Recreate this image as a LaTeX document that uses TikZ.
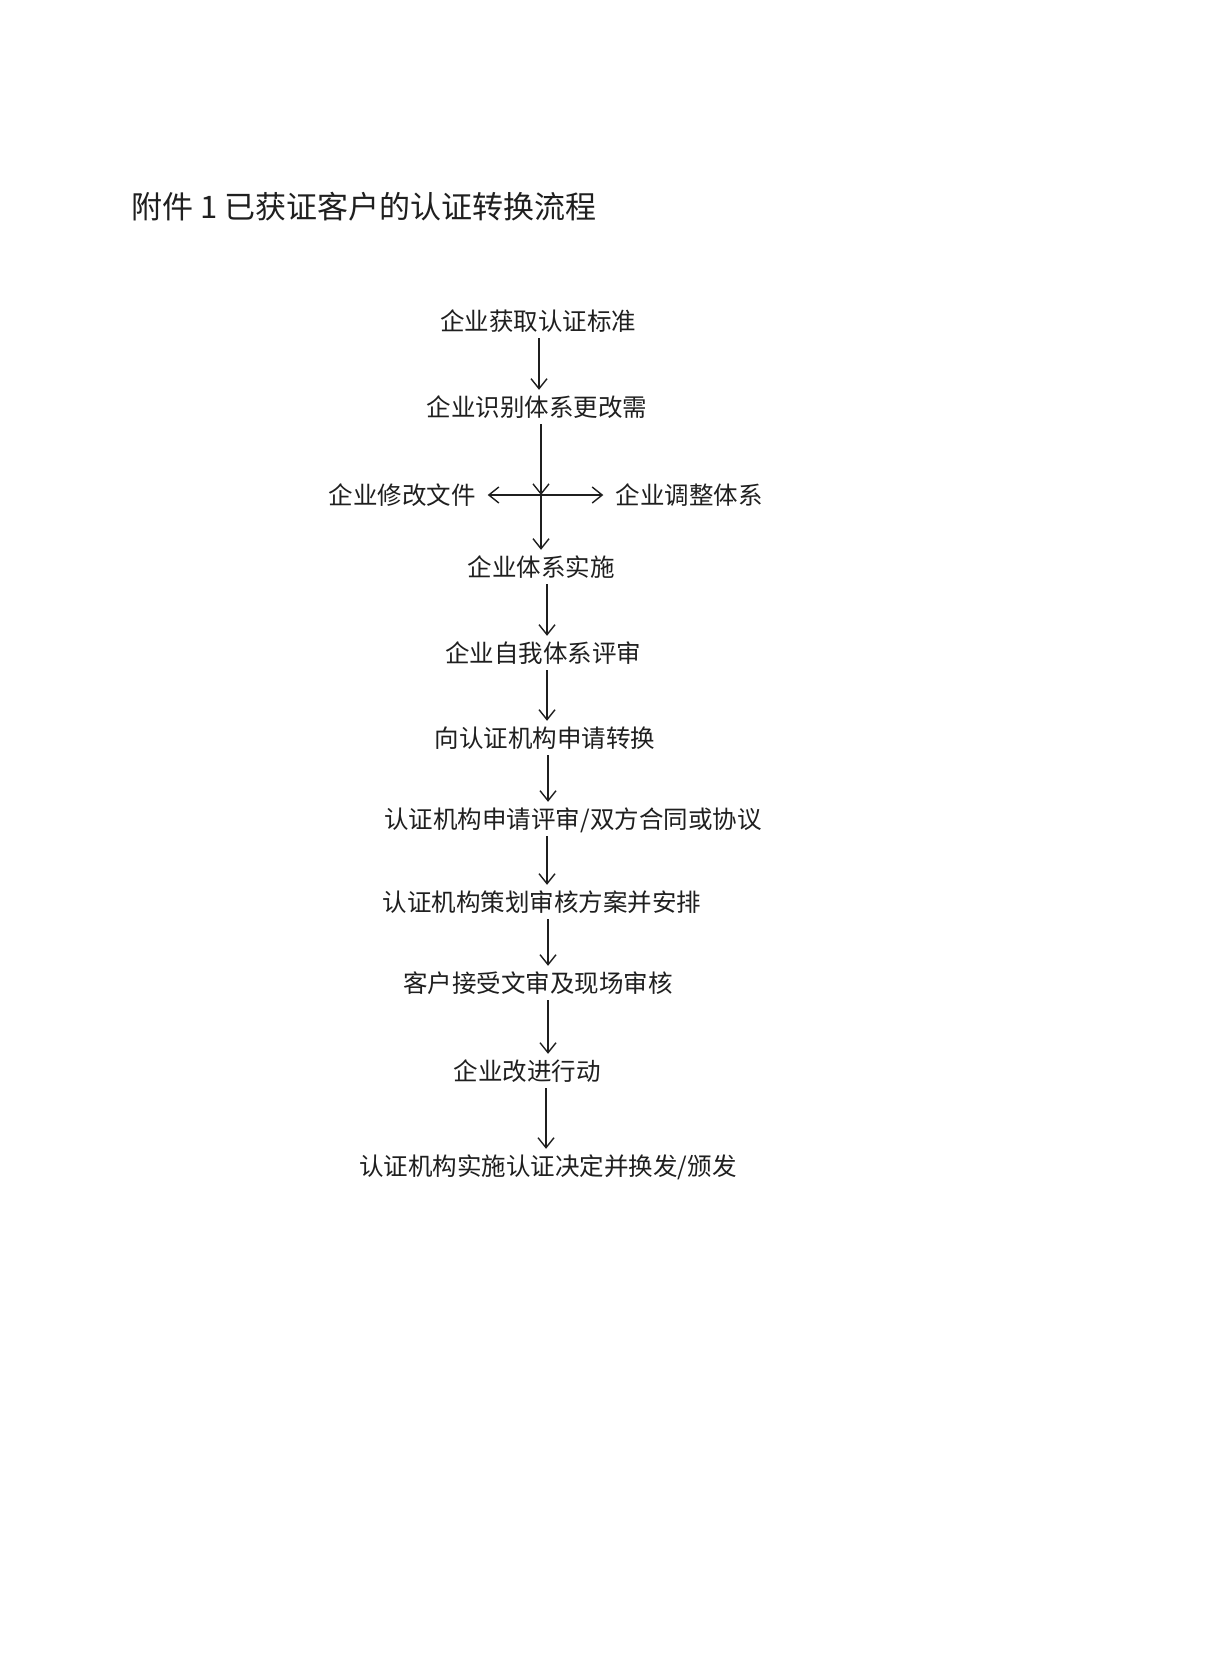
\documentclass[tikz,border=0pt]{standalone}
\usepackage{fontspec}
\setmainfont{Noto Sans CJK SC}
\usetikzlibrary{arrows.meta}
\tikzset{
    stage/.style={inner sep=0pt, inner xsep=12pt, inner ysep=6pt, text height=20pt, text depth=2pt,
        font=\fontsize{24.5}{26}\selectfont, text=black!88},
    flow/.style={line width=1.4pt, draw=black!88, -{Straight Barb[length=10pt,width=16pt]}},
    bothflow/.style={line width=1.4pt, draw=black!88,
        {Straight Barb[length=10pt,width=16pt]}-{Straight Barb[length=10pt,width=16pt]}}
}
\begin{document}
\begin{tikzpicture}[x=1pt,y=-1pt]
        \useasboundingbox[fill=white] (0,0) rectangle (1217,1678);
        \node[anchor=west, inner sep=0pt, text height=25pt, text depth=3pt, text=black!88,
            font=\fontsize{31}{33}\selectfont] (title) at (131,207) {附件 1 已获证客户的认证转换流程};
        \node[stage] (obtain) at (538,321) {企业获取认证标准};
        \node[stage] (identify) at (537,407) {企业识别体系更改需};
        \node[stage] (revise) at (402,495) {企业修改文件};
        \node[stage] (adjust) at (689,495) {企业调整体系};
        \coordinate (split) at (541,495);
        \node[stage] (implement) at (541,567) {企业体系实施};
        \node[stage] (selfreview) at (543,653) {企业自我体系评审};
        \node[stage] (apply) at (545,738) {向认证机构申请转换};
        \node[stage] (contract) at (573,819) {认证机构申请评审/双方合同或协议};
        \node[stage] (plan) at (542,902) {认证机构策划审核方案并安排};
        \node[stage] (audit) at (538,983) {客户接受文审及现场审核};
        \node[stage] (improve) at (527,1071) {企业改进行动};
        \node[stage] (decide) at (548,1166) {认证机构实施认证决定并换发/颁发};
        \draw[flow] (obtain.south -| 539,0) -- (identify.north -| 539,0);
        \draw[flow] (identify.south -| split) -- (split);
        \draw[bothflow] (revise.east) -- (adjust.west);
        \draw[flow] (split) -- (implement.north -| split);
        \draw[flow] (implement.south -| 547,0) -- (selfreview.north -| 547,0);
        \draw[flow] (selfreview.south -| 547,0) -- (apply.north -| 547,0);
        \draw[flow] (apply.south -| 548,0) -- (contract.north -| 548,0);
        \draw[flow] (contract.south -| 547,0) -- (plan.north -| 547,0);
        \draw[flow] (plan.south -| 548,0) -- (audit.north -| 548,0);
        \draw[flow] (audit.south -| 548,0) -- (improve.north -| 548,0);
        \draw[flow] (improve.south -| 546,0) -- (decide.north -| 546,0);
\end{tikzpicture}
\end{document}
